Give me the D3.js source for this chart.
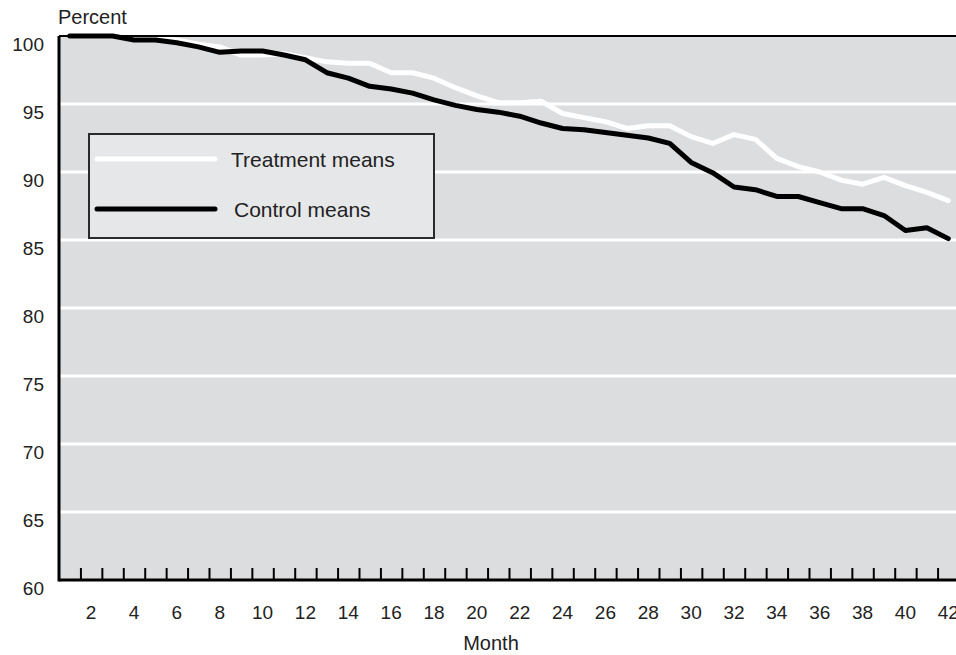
<!DOCTYPE html>
<html>
<head>
<meta charset="utf-8">
<script src="https://cdn.jsdelivr.net/npm/d3@7"></script>
<style>
  body { margin: 0; background: #fff; }
  svg text { font-family: "Liberation Sans", Arial, sans-serif; fill: #222; }
</style>
</head>
<body>
<div id="canvas"></div>
<script>
// ---- DATA ----
var months = d3.range(1, 43);
var treatment = [100, 100, 100, 100, 99.9, 99.7, 99.4, 99.2, 98.6, 98.6,
                 98.7, 98.4, 98.1, 98.0, 98.0, 97.3, 97.3, 96.9, 96.2, 95.6,
                 95.1, 95.1, 95.2, 94.3, 94.0, 93.7, 93.2, 93.4, 93.4, 92.6,
                 92.1, 92.75, 92.4, 91.0, 90.4, 90.0, 89.4, 89.1, 89.6, 89.0,
                 88.5, 87.9];
var control = [100, 100, 100, 99.7, 99.7, 99.5, 99.2, 98.8, 98.9, 98.9,
               98.6, 98.25, 97.3, 96.9, 96.3, 96.1, 95.8, 95.3, 94.9, 94.6,
               94.4, 94.1, 93.6, 93.2, 93.1, 92.9, 92.7, 92.5, 92.1, 90.7,
               89.95, 88.9, 88.7, 88.2, 88.2, 87.75, 87.3, 87.3, 86.8, 85.7,
               85.9, 85.1];
var yTicks = [60, 65, 70, 75, 80, 85, 90, 95, 100];
var xLabels = d3.range(2, 43, 2);
var legendItems = [
  {name: 'Treatment means', color: '#ffffff', values: treatment},
  {name: 'Control means', color: '#000000', values: control}
];

// ---- CONVENTIONS ----
var margin = {top: 36, right: -3, bottom: 75, left: 59};
var outerWidth = 956, outerHeight = 655;
var width = outerWidth - margin.left - margin.right,
    height = outerHeight - margin.top - margin.bottom;

var svg = d3.select('#canvas')
    .append('svg')
    .attr('width', outerWidth)
    .attr('height', outerHeight);

var plot = svg.append('g')
    .attr('transform', 'translate(' + margin.left + ',' + margin.top + ')');

// ---- SCALES ----
var scaleX = d3.scaleLinear()
    .domain([0.5, 42.5])
    .range([0, width]);

var scaleY = d3.scaleLinear()
    .domain([60, 100])
    .range([height, 0]);

// background
plot.append('rect')
    .attr('width', width)
    .attr('height', height)
    .style('fill', '#dcdddf');

// grid lines
plot.selectAll('.grid')
    .data(yTicks.filter(function(d){ return d > 60 && d < 100; }))
    .enter().append('line')
    .attr('class', 'grid')
    .attr('x1', 0)
    .attr('x2', width)
    .attr('y1', function(d){ return scaleY(d); })
    .attr('y2', function(d){ return scaleY(d); })
    .style('stroke', '#fff')
    .style('stroke-width', 3);

// ---- AXES ----
// month ticks sit at the boundaries between months
var axisX = d3.axisBottom()
    .scale(scaleX)
    .tickValues(d3.range(1.5, 42, 1))
    .tickSize(-12)
    .tickFormat('');

plot.append('g').attr('class', 'axis axis-x')
    .attr('transform', 'translate(0,' + height + ')')
    .call(axisX)
    .call(function(g){
        g.select('.domain').remove();
        g.selectAll('.tick line').style('stroke', '#000').style('stroke-width', 2);
    });

// month labels centred on the months
plot.selectAll('.x-label')
    .data(xLabels)
    .enter().append('text')
    .attr('class', 'x-label')
    .attr('x', function(d){ return scaleX(d); })
    .attr('y', height + 39)
    .attr('text-anchor', 'middle')
    .style('font-size', '19px')
    .text(function(d){ return d; });

plot.selectAll('.y-label')
    .data(yTicks)
    .enter().append('text')
    .attr('class', 'y-label')
    .attr('x', -15)
    .attr('y', function(d){ return scaleY(d) + 15; })
    .attr('text-anchor', 'end')
    .style('font-size', '19px')
    .text(function(d){ return d; });

// ---- LINES ----
var lineGenerator = d3.line()
    .x(function(d, i){ return scaleX(months[i]); })
    .y(function(d){ return scaleY(d); });

plot.selectAll('.series')
    .data(legendItems)
    .enter().append('path')
    .attr('class', 'series')
    .attr('d', function(d){ return lineGenerator(d.values); })
    .style('fill', 'none')
    .style('stroke', function(d){ return d.color; })
    .style('stroke-width', 5)
    .style('stroke-linejoin', 'round')
    .style('stroke-linecap', 'round');

// frame
plot.append('line')
    .attr('x1', 0).attr('x2', width)
    .attr('y1', 0).attr('y2', 0)
    .style('stroke', '#000').style('stroke-width', 2);
plot.append('line')
    .attr('x1', 0).attr('x2', width)
    .attr('y1', height).attr('y2', height)
    .style('stroke', '#000').style('stroke-width', 3);
plot.append('line')
    .attr('x1', 0).attr('x2', 0)
    .attr('y1', 0).attr('y2', height + 1.5)
    .style('stroke', '#000').style('stroke-width', 3);

// ---- LEGEND ----
var legend = svg.append('g')
    .attr('transform', 'translate(89,134)');

legend.append('rect')
    .attr('width', 345)
    .attr('height', 104)
    .style('fill', '#e6e7e9')
    .style('stroke', '#2a2a2a')
    .style('stroke-width', 2);

var entry = legend.selectAll('.entry')
    .data(legendItems)
    .enter().append('g')
    .attr('class', 'entry')
    .attr('transform', function(d, i){ return 'translate(0,' + (25 + i * 50) + ')'; });

entry.append('line')
    .attr('x1', 8).attr('x2', 126)
    .style('stroke', function(d){ return d.color; })
    .style('stroke-width', 5)
    .style('stroke-linecap', 'round');

entry.append('text')
    .attr('x', function(d, i){ return i === 0 ? 142 : 145; })
    .attr('y', 8)
    .style('font-size', '21px')
    .text(function(d){ return d.name; });

// ---- TITLES ----
svg.append('text')
    .attr('x', 58)
    .attr('y', 24)
    .style('font-size', '20px')
    .text('Percent');

svg.append('text')
    .attr('x', 491)
    .attr('y', 650)
    .attr('text-anchor', 'middle')
    .style('font-size', '20px')
    .text('Month');
</script>
</body>
</html>
